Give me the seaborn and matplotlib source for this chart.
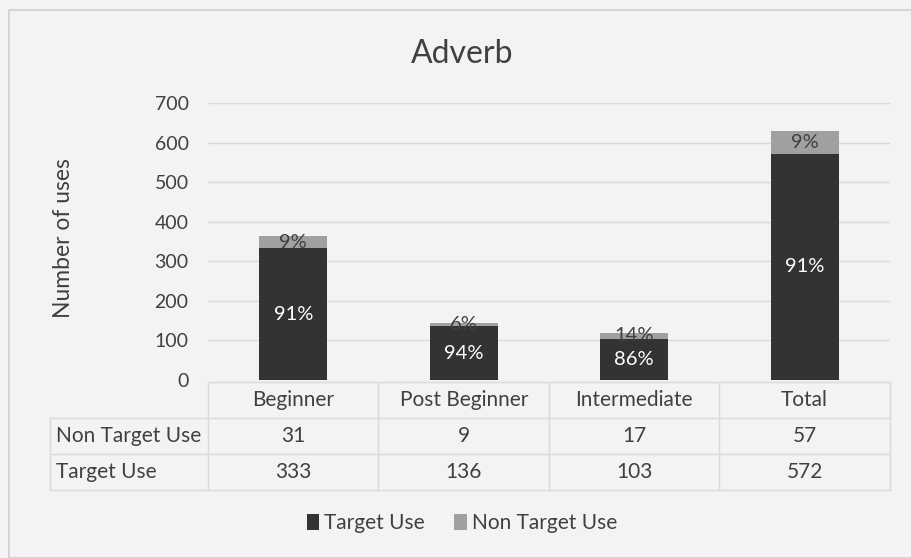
import matplotlib
matplotlib.use("Agg")
import matplotlib.pyplot as plt
import matplotlib.transforms as mtransforms
from matplotlib.patches import Patch, Rectangle
from matplotlib.lines import Line2D
import seaborn as sns
import pandas as pd

# --- data ---
levels = ["Beginner", "Post Beginner", "Intermediate", "Total"]
target_use = [333, 136, 103, 572]
non_target_use = [31, 9, 17, 57]
yticks = [0, 100, 200, 300, 400, 500, 600, 700]

BG = "#f3f3f5"
DARK = "#333333"
LIGHT = "#a0a0a0"
TXT = "#404040"
GRID = "#d9d9d9"
FONT = "Lato"

sns.set_theme(style="white")
plt.rcParams["font.family"] = [FONT, "DejaVu Sans"]

df = pd.DataFrame({
    "level": levels,
    "target": target_use,
    "non_target": non_target_use,
})
df["total"] = df["target"] + df["non_target"]

W, H = 912, 558
fig = plt.figure(figsize=(W / 100, H / 100), dpi=100, facecolor=BG)
ax = fig.add_axes([208 / W, 1 - 380 / H, (890 - 208) / W, (380 - 103) / H])
ax.set_facecolor(BG)

# stacked bars: full height in light grey, target part in dark on top of it
sns.barplot(data=df, x="level", y="total", color=LIGHT, width=0.4,
            saturation=1, linewidth=0, ax=ax, zorder=3)
sns.barplot(data=df, x="level", y="target", color=DARK, width=0.4,
            saturation=1, linewidth=0, ax=ax, zorder=4)

ax.set_xlim(-0.5, len(levels) - 0.5)
ax.set_ylim(0, 700)
ax.set_yticks(yticks)
ax.set_yticklabels([str(v) for v in yticks], fontsize=14, color=TXT)
ax.tick_params(axis="y", length=0, pad=14)
ax.set_xticks([])
ax.set_xlabel("")
ax.set_ylabel("")
for y in yticks[1:]:
    ax.axhline(y, color=GRID, lw=1, zorder=1)
for s in ax.spines.values():
    s.set_visible(False)

# percentage labels inside each segment
for i, row in df.iterrows():
    t_pct = round(100 * row["target"] / row["total"])
    n_pct = 100 - t_pct
    ax.text(i, row["target"] / 2, f"{t_pct}%", ha="center", va="center",
            color="white", fontsize=14.5, zorder=6)
    ax.text(i, row["target"] + row["non_target"] / 2, f"{n_pct}%",
            ha="center", va="center", color=TXT, fontsize=14.5, zorder=6)

# title and y-axis label
fig.text(462 / W, 1 - 54 / H, "Adverb", ha="center", va="center",
         fontsize=23, color=TXT)
fig.text(64 / W, 1 - 238 / H, "Number of uses", ha="center", va="center",
         rotation=90, fontsize=16.5, color=TXT)

# data table below the bars
tr = mtransforms.blended_transform_factory(ax.transData, fig.transFigure)
fy = lambda p: 1 - p / H
top, r1, r2, bot = 382, 418, 454, 490
lkw = dict(color=GRID, lw=1, clip_on=False)
# header row (category names)
fig.add_artist(Line2D([-0.5, 3.5], [fy(top)] * 2, transform=tr, **lkw))
for k in range(len(levels) + 1):
    fig.add_artist(Line2D([k - 0.5] * 2, [fy(top), fy(bot)], transform=tr, **lkw))
for yy in (r1, r2, bot):
    fig.add_artist(Line2D([50 / W, 890 / W], [fy(yy)] * 2,
                          transform=fig.transFigure, **lkw))
fig.add_artist(Line2D([50 / W] * 2, [fy(r1), fy(bot)],
                      transform=fig.transFigure, **lkw))
for i, name in enumerate(levels):
    fig.text(i, fy((top + r1) / 2), name, transform=tr, ha="center",
             va="center", fontsize=15, color=TXT)
    fig.text(i, fy((r1 + r2) / 2), str(non_target_use[i]), transform=tr,
             ha="center", va="center", fontsize=15, color=TXT)
    fig.text(i, fy((r2 + bot) / 2), str(target_use[i]), transform=tr,
             ha="center", va="center", fontsize=15, color=TXT)
fig.text(56 / W, fy((r1 + r2) / 2), "Non Target Use", ha="left",
         va="center", fontsize=15, color=TXT)
fig.text(56 / W, fy((r2 + bot) / 2), "Target Use", ha="left",
         va="center", fontsize=15, color=TXT)

# legend
handles = [Patch(facecolor=DARK, edgecolor="none", label="Target Use"),
           Patch(facecolor=LIGHT, edgecolor="none", label="Non Target Use")]
fig.legend(handles=handles, loc="center", bbox_to_anchor=(462 / W, fy(523)),
           ncol=2, frameon=False, fontsize=15, handlelength=0.6,
           handleheight=0.8, handletextpad=0.25, columnspacing=1.4,
           labelcolor=TXT)

# chart frame
fig.add_artist(Rectangle((9 / W, 0), 1, fy(10), transform=fig.transFigure,
                         fill=False, edgecolor="#cfcfcf", lw=1.2))

fig.savefig("out.png", dpi=100, facecolor=BG)
